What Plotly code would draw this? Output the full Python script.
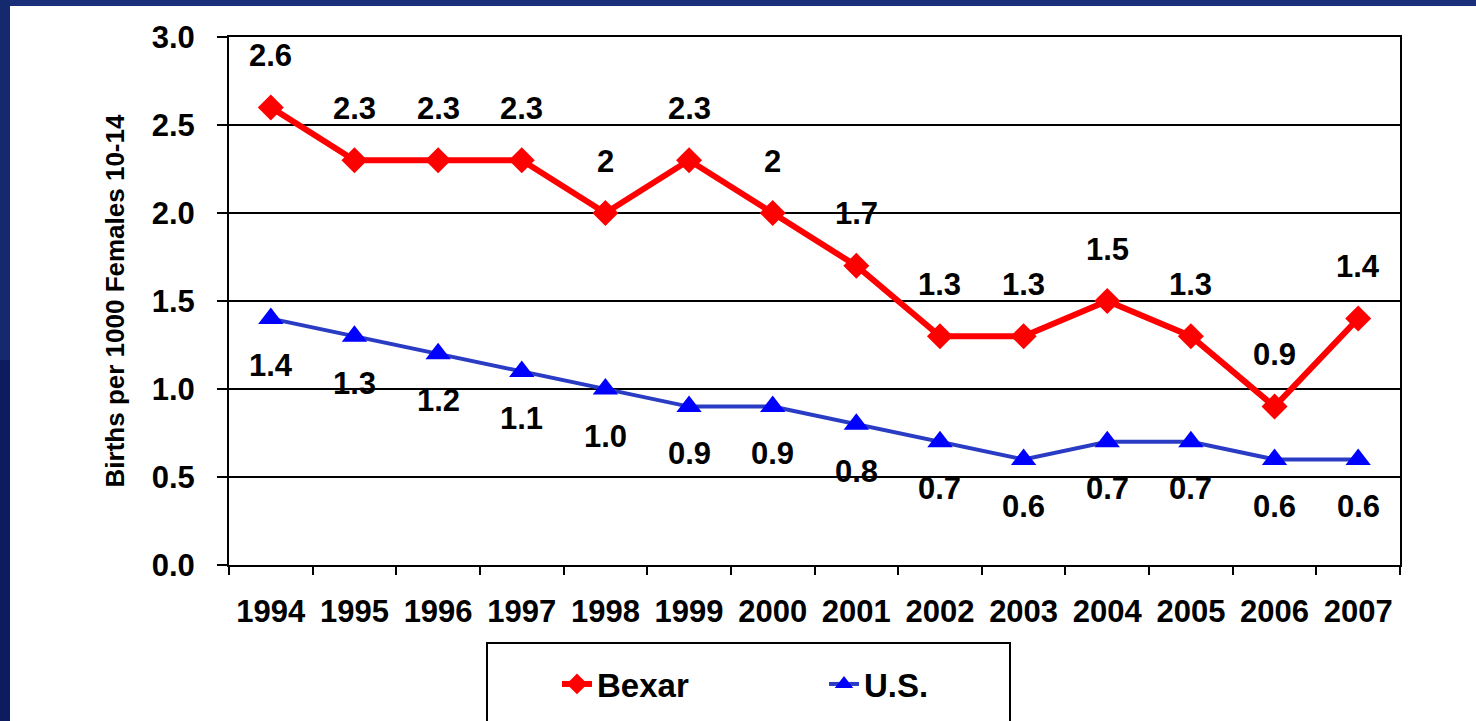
import plotly.graph_objects as go

years = ["1994", "1995", "1996", "1997", "1998", "1999", "2000",
         "2001", "2002", "2003", "2004", "2005", "2006", "2007"]
bexar = [2.6, 2.3, 2.3, 2.3, 2.0, 2.3, 2.0, 1.7, 1.3, 1.3, 1.5, 1.3, 0.9, 1.4]
us = [1.4, 1.3, 1.2, 1.1, 1.0, 0.9, 0.9, 0.8, 0.7, 0.6, 0.7, 0.7, 0.6, 0.6]
y_ticks = [0.0, 0.5, 1.0, 1.5, 2.0, 2.5, 3.0]
y_title = "Births per 1000 Females 10-14"

FONT = "Liberation Sans, Arial, sans-serif"
W, H = 1476, 721
ML, MR, MT, MB = 229, 76, 37, 156
PW, PH = W - ML - MR, H - MT - MB


def px_x(p):
    return (p - ML) / PW


def px_y(p):
    return (H - MB - p) / PH


def bold(size):
    return dict(family=FONT, size=size, color="black", weight="bold")


fig = go.Figure()
fig.add_trace(go.Scatter(
    x=years, y=bexar, name="Bexar", mode="lines+markers",
    line=dict(color="#ff0000", width=6),
    marker=dict(symbol="diamond", size=20, color="#ff0000"),
))
fig.add_trace(go.Scatter(
    x=years, y=us, name="U.S.", mode="lines+markers",
    line=dict(color="#2b3cc4", width=4),
    marker=dict(symbol="triangle-up", size=22, color="#0000ff"),
))

annotations = []
for i, v in enumerate(bexar):
    annotations.append(dict(x=i, y=v, xref="x", yref="y", text="{:g}".format(v),
                            showarrow=False, yshift=52, font=bold(31)))
for i, v in enumerate(us):
    annotations.append(dict(x=i, y=v, xref="x", yref="y", text="{:.1f}".format(v),
                            showarrow=False, yshift=-47, font=bold(31)))

shapes = [
    # slide frame (dark navy strips)
    dict(type="rect", xref="paper", yref="paper", x0=px_x(0), x1=px_x(W + 5),
         y0=px_y(6), y1=px_y(-5), fillcolor="#1a2e7a", line=dict(width=0), layer="above"),
    dict(type="rect", xref="paper", yref="paper", x0=px_x(-5), x1=px_x(10),
         y0=px_y(360), y1=px_y(0), fillcolor="#15296f", line=dict(width=0), layer="above"),
    dict(type="rect", xref="paper", yref="paper", x0=px_x(-5), x1=px_x(10),
         y0=px_y(H + 5), y1=px_y(360), fillcolor="#0c1c5e", line=dict(width=0), layer="above"),
    # legend border
    dict(type="rect", xref="paper", yref="paper", x0=px_x(487), x1=px_x(1010),
         y0=px_y(H + 10), y1=px_y(643), fillcolor="rgba(0,0,0,0)",
         line=dict(color="black", width=2)),
]

fig.update_layout(
    width=W, height=H,
    margin=dict(l=ML, r=MR, t=MT, b=MB, autoexpand=False),
    paper_bgcolor="white", plot_bgcolor="white",
    font=dict(family=FONT, color="black"),
    showlegend=True,
    legend=dict(orientation="h", x=px_x(557), xanchor="left",
                y=px_y(656), yanchor="top",
                font=bold(33),
                entrywidth=222, bgcolor="rgba(0,0,0,0)", borderwidth=0),
    xaxis=dict(type="category", range=[-0.5, 13.5], tickson="boundaries",
               ticks="outside", ticklen=8, tickwidth=2, tickcolor="black",
               showline=True, linecolor="black", linewidth=2, mirror=True,
               showgrid=False, tickfont=bold(31),
               ticklabelstandoff=18),
    yaxis=dict(range=[0, 3.0], tickvals=y_ticks, ticktext=["{:.1f}".format(t) for t in y_ticks],
               ticks="outside", ticklen=10, tickwidth=2, tickcolor="black",
               showline=True, linecolor="black", linewidth=2, mirror=True,
               showgrid=True, gridcolor="black", gridwidth=1.5, zeroline=False,
               tickfont=bold(31),
               ticklabelstandoff=16,
               title=dict(text=y_title, font=bold(26), standoff=20)),
    annotations=annotations,
    shapes=shapes,
)

fig.write_html("out.html", config={"displayModeBar": False},
               post_script="document.body.style.margin='0';")
